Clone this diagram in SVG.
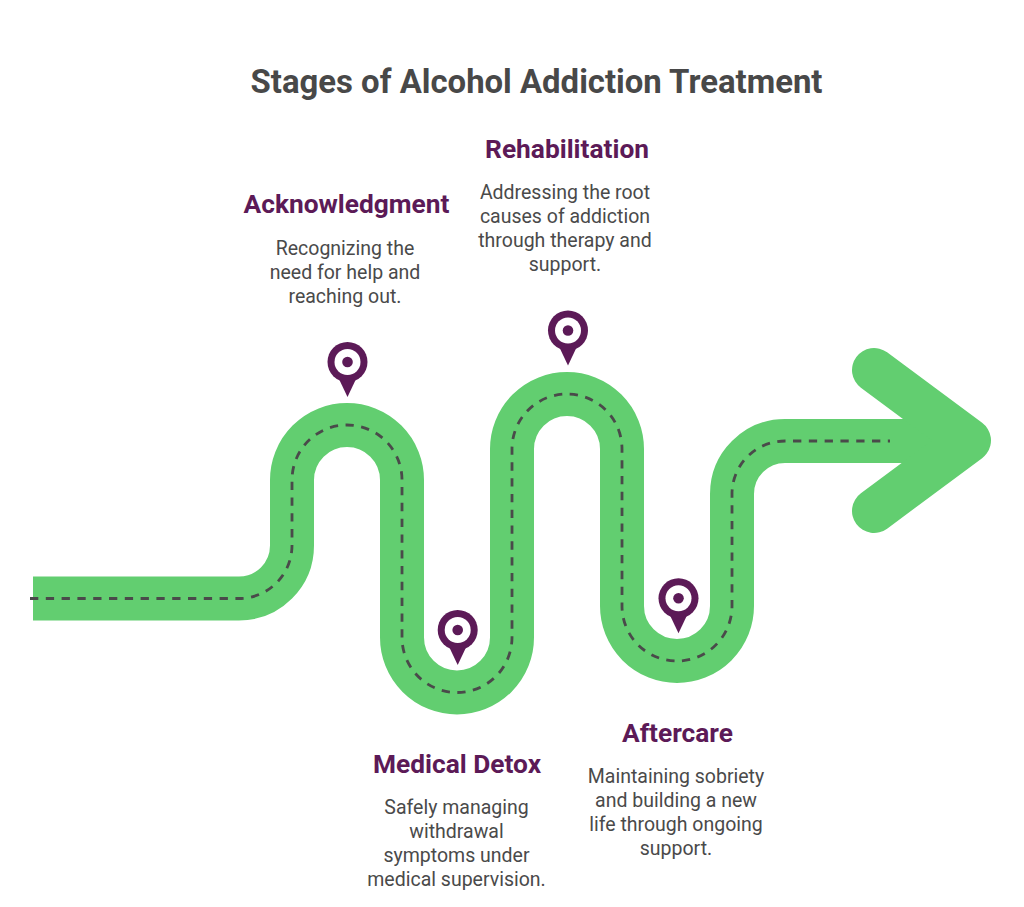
<svg xmlns="http://www.w3.org/2000/svg" width="1024" height="907" viewBox="0 0 1024 907">
<style>
.title{font-family:Roboto,"Liberation Sans",sans-serif;font-weight:700;font-size:32.9px;fill:#484848;text-anchor:middle}
.head{font-family:Roboto,"Liberation Sans",sans-serif;font-weight:700;font-size:26.3px;fill:#5c1a57;text-anchor:middle}
.body{font-family:Roboto,"Liberation Sans",sans-serif;font-size:19.5px;fill:#4a4a4a;text-anchor:middle}
.road{fill:none;stroke:#62ce70;stroke-width:44}
.dash{fill:none;stroke:#4a4a4a;stroke-width:2.8;stroke-dasharray:8.3 7.5}
.pin{fill:#5c1a57}
</style>
<defs>
<g id="pinshape">
<path class="pin" d="M -9 16 L 9 16 L 0 35 Z"/>
<circle class="pin" r="20"/>
<circle r="13" fill="#ffffff"/>
<circle class="pin" r="5.3"/>
</g>
</defs>
<rect width="1024" height="907" fill="#ffffff"/>
<text class="title" x="536.5" y="93">Stages of Alcohol Addiction Treatment</text>
<g id="connectors">
<path class="road" d="M 33 598.5 H 239 A 53 53 0 0 0 292 545.5 V 480 A 55 55 0 0 1 402 480 V 637.5 A 55 55 0 0 0 512 637.5 V 449 A 55 55 0 0 1 622 449 V 606 A 55 55 0 0 0 732 606 V 494 A 53 53 0 0 1 785 441 H 940"/>
<polyline fill="none" stroke="#62ce70" stroke-width="44" stroke-linecap="round" stroke-linejoin="round" points="874,370 969,440.5 874,511"/>
<path class="dash" d="M 30 598.5 H 239 A 53 53 0 0 0 292 545.5 V 480 A 55 55 0 0 1 402 480 V 637.5 A 55 55 0 0 0 512 637.5 V 449 A 55 55 0 0 1 622 449 V 606 A 55 55 0 0 0 732 606 V 494 A 53 53 0 0 1 785 441 H 890"/>
</g>
<g id="acknowledgment">
<use href="#pinshape" x="347.5" y="362"/>
<text class="head" x="346.5" y="213">Acknowledgment</text>
<text class="body" x="345" y="255">Recognizing the</text>
<text class="body" x="345" y="279">need for help and</text>
<text class="body" x="345" y="303">reaching out.</text>
</g>
<g id="medical-detox">
<use href="#pinshape" x="457.7" y="630"/>
<text class="head" x="457" y="773">Medical Detox</text>
<text class="body" x="456.5" y="814">Safely managing</text>
<text class="body" x="456.5" y="838">withdrawal</text>
<text class="body" x="456.5" y="862">symptoms under</text>
<text class="body" x="456.5" y="886">medical supervision.</text>
</g>
<g id="rehabilitation">
<use href="#pinshape" x="568" y="330.5"/>
<text class="head" x="567" y="158">Rehabilitation</text>
<text class="body" x="565" y="199">Addressing the root</text>
<text class="body" x="565" y="223">causes of addiction</text>
<text class="body" x="565" y="247">through therapy and</text>
<text class="body" x="565" y="271">support.</text>
</g>
<g id="aftercare">
<use href="#pinshape" x="678.5" y="598.3"/>
<text class="head" x="677.5" y="742">Aftercare</text>
<text class="body" x="676" y="783">Maintaining sobriety</text>
<text class="body" x="676" y="807">and building a new</text>
<text class="body" x="676" y="831">life through ongoing</text>
<text class="body" x="676" y="855">support.</text>
</g>
</svg>
